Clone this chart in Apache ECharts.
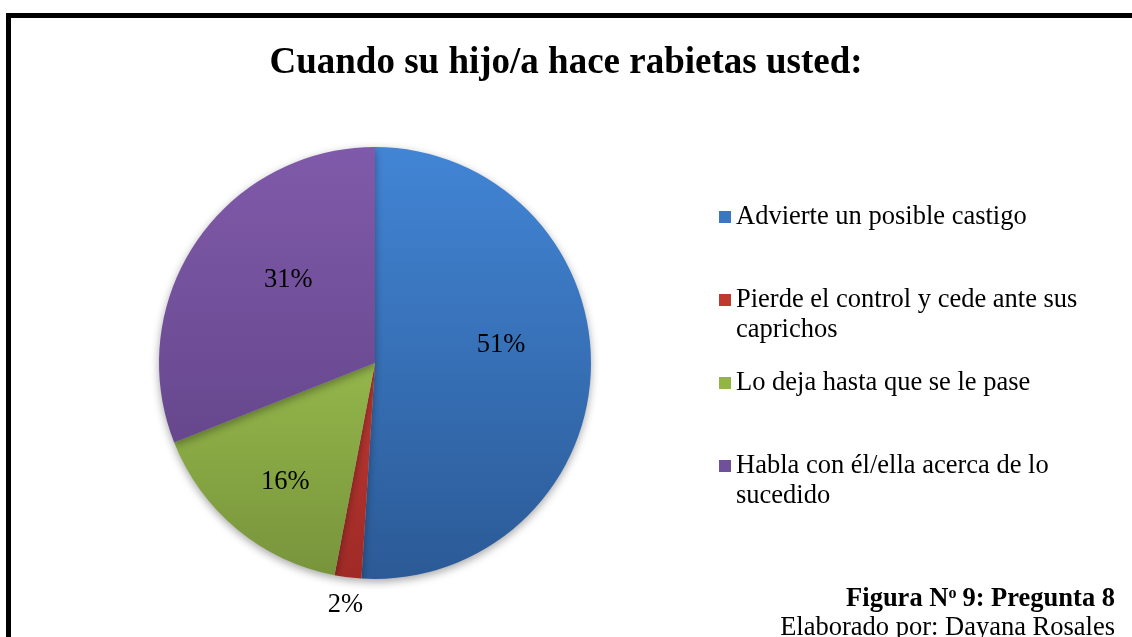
<!DOCTYPE html>
<html>
<head>
<meta charset="utf-8">
<title>Cuando su hijo/a hace rabietas usted</title>
<script src="https://cdn.jsdelivr.net/npm/echarts@6/dist/echarts.min.js"></script>
<style>
    html, body { margin: 0; padding: 0; background: #fff; }
    #chart { width: 1132px; height: 637px; }
</style>
</head>
<body>
<div id="chart"></div>
<script>
    const categories = [
        'Advierte un posible castigo',
        'Pierde el control y cede ante sus caprichos',
        'Lo deja hasta que se le pase',
        'Habla con él/ella acerca de lo sucedido'
    ];
    const values = [51, 2, 16, 31];   // porcentajes
    const titleText = 'Cuando su hijo/a hace rabietas usted:';
    const figureText = 'Figura N{sup|o}9: Pregunta 8';
    const authorText = 'Elaborado por: Dayana Rosales';

    const serif = "'Liberation Serif', 'Times New Roman', serif";
    // degradado vertical tipo Excel (claro arriba, oscuro abajo)
    const sliceColors = [
        ['#4285d5', '#2b5a96'],
        ['#d3473f', '#a02a26'],
        ['#b0d85a', '#77943b'],
        ['#805aaa', '#5a3f80']
    ];
    const markerColors = ['#3b76c2', '#c0392f', '#93b548', '#70509a'];
    // ajuste de etiquetas para parecerse al "mejor ajuste" de Excel
    const labelShift = [[15, -21], [22, 14], [-19, 34], [5, -21]];

    const cx = 375, cy = 363, r = 216;
    const fontSize = 26.5;
    const legendWidth = 375;

    function grad(pair) {
        return new echarts.graphic.LinearGradient(0, cy - r, 0, cy + r, [
            { offset: 0, color: pair[0] },
            { offset: 1, color: pair[1] }
        ], true);
    }

    // todas las entradas ocupan dos líneas para que el cuadro quede en la primera
    const ctx = document.createElement('canvas').getContext('2d');
    ctx.font = fontSize + "px 'Liberation Serif'";
    function wraps(name) {
        return ctx.measureText(name).width > legendWidth;
    }
    // cuadro de 12x12 arriba de una caja de 12x42
    const topSquare = 'path://M0,0h12v12h-12z M0,41.99h0.01v0.01h-0.01z';

    const chart = echarts.init(document.getElementById('chart'));
    chart.setOption({
        backgroundColor: '#fff',
        animation: false,
        title: {
            text: titleText,
            left: 'center',
            top: 40,
            textStyle: {
                fontFamily: serif,
                fontWeight: 'bold',
                fontSize: 37,
                color: '#000'
            }
        },
        legend: {
            orient: 'vertical',
            left: 719,
            top: 202,
            padding: 0,
            itemGap: 23,
            itemWidth: 12,
            itemHeight: 42,
            icon: topSquare,
            selectedMode: false,
            data: categories.map((name, i) => ({
                name: name,
                itemStyle: { color: markerColors[i] }
            })),
            formatter: function (name) {
                return wraps(name) ? name : name + '\n ';
            },
            textStyle: {
                fontFamily: serif,
                fontSize: fontSize,
                lineHeight: 30,
                color: '#000',
                width: legendWidth,
                overflow: 'break'
            }
        },
        graphic: [
            {
                type: 'rect',
                shape: { x: 8.5, y: 15.5, width: 1200, height: 700 },
                style: { fill: 'none', stroke: '#000', lineWidth: 5 },
                silent: true
            },
            {
                type: 'text',
                right: 17,
                top: 586,
                style: {
                    text: figureText,
                    font: 'bold ' + fontSize + 'px ' + serif,
                    fill: '#000',
                    rich: {
                        sup: { fontSize: 16, fontWeight: 'bold', fontFamily: serif, verticalAlign: 'top', padding: [0, 6, 10, 0] }
                    }
                }
            },
            {
                type: 'text',
                right: 17,
                top: 615,
                style: {
                    text: authorText,
                    font: fontSize + 'px ' + serif,
                    fill: '#000'
                }
            }
        ],
        series: [
            {
                type: 'pie',
                center: [cx, cy],
                radius: [0, r],
                startAngle: 90,
                clockwise: true,
                avoidLabelOverlap: false,
                itemStyle: {
                    borderWidth: 0,
                    shadowBlur: 8,
                    shadowOffsetY: 3,
                    shadowColor: 'rgba(0,0,0,0.35)'
                },
                label: {
                    show: true,
                    position: 'inside',
                    formatter: '{c}%',
                    fontFamily: serif,
                    fontSize: fontSize,
                    color: '#000'
                },
                labelLine: { show: false, length: 14, length2: 0 },
                labelLayout: function (p) {
                    const s = labelShift[p.dataIndex];
                    return { dx: s[0], dy: s[1] };
                },
                emphasis: { disabled: true },
                data: categories.map((name, i) => ({
                    name: name,
                    value: values[i],
                    itemStyle: { color: grad(sliceColors[i]) },
                    label: values[i] < 5 ? { position: 'outside', align: 'center' } : {}
                }))
            }
        ]
    });
</script>
</body>
</html>
